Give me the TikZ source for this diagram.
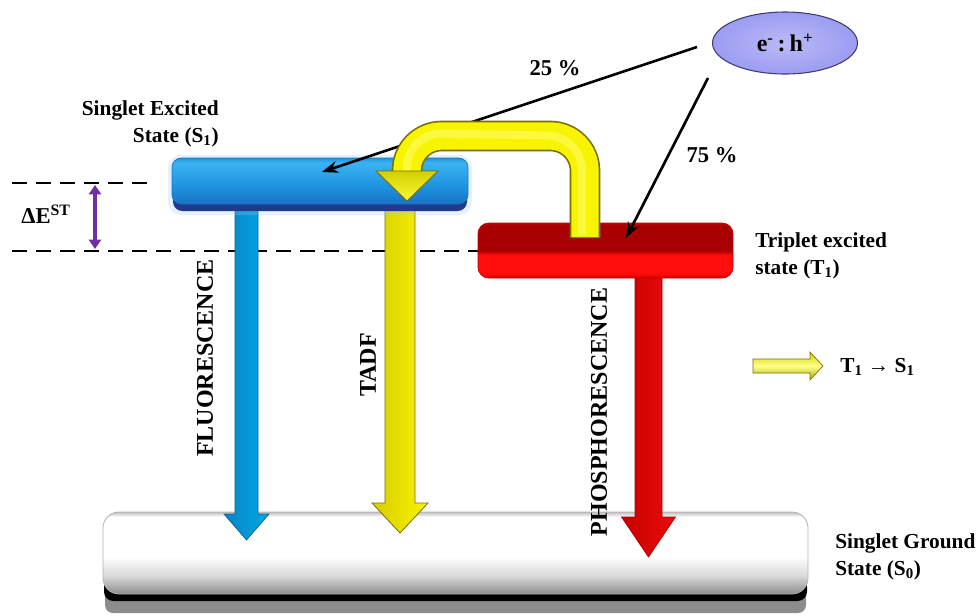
\documentclass[tikz,border=0pt]{standalone}
\usepackage{fontspec}
\setmainfont{Liberation Serif}
\usetikzlibrary{arrows.meta,shapes.geometric,calc}

\definecolor{bluetop}{HTML}{3DB2F2}
\definecolor{bluemid}{HTML}{1E94E0}
\definecolor{bluebot}{HTML}{1773C4}
\definecolor{navy}{HTML}{1F3A8C}
\definecolor{bluegl}{HTML}{9CC8EE}
\definecolor{cyanA}{HTML}{0A84C4}
\definecolor{cyanB}{HTML}{12BDF5}
\definecolor{cyanC}{HTML}{00A8E8}
\definecolor{rdark}{HTML}{A80000}
\definecolor{rbright}{HTML}{FF0D0D}
\definecolor{redge}{HTML}{C80000}
\definecolor{ylw}{HTML}{F8F400}
\definecolor{ylwdark}{HTML}{7A6E00}
\definecolor{ylwlight}{HTML}{FFFF8A}
\definecolor{ylwside}{HTML}{D8CC00}
\definecolor{lav}{HTML}{9C9CF2}
\definecolor{lavedge}{HTML}{3C3C78}
\definecolor{purp}{HTML}{7030A0}

\pgfdeclareverticalshading{redbarsh}{100bp}{color(0bp)=(redge); color(25bp)=(redge); color(29bp)=(rbright); color(46bp)=(rbright); color(50bp)=(rdark); color(73bp)=(rdark); color(75bp)=(redge); color(100bp)=(redge)}
\pgfdeclareverticalshading{bluebarsh}{100bp}{color(0bp)=(bluebot); color(25bp)=(bluebot); color(45bp)=(bluemid); color(70bp)=(bluetop); color(75bp)=(bluemid); color(100bp)=(bluemid)}
\pgfdeclareverticalshading{whitebarsh}{100bp}{color(0bp)=(black!45); color(25bp)=(black!45); color(36bp)=(black!15); color(48bp)=(white); color(72bp)=(white); color(75bp)=(black!25); color(100bp)=(black!25)}

\newcommand{\fatarrow}[7]{%
  \path[#7] ({#1-#4},{#2}) -- ({#1-#4},{#3-#6}) -- ({#1-#5},{#3-#6}) -- ({#1},{#3})
    -- ({#1+#5},{#3-#6}) -- ({#1+#4},{#3-#6}) -- ({#1+#4},{#2}) -- cycle;}

\begin{document}
\begin{tikzpicture}[x=0.75pt,y=-0.75pt,
  lbl/.style={font=\bfseries\fontsize{16}{20}\selectfont, inner sep=0pt},
  pct/.style={font=\bfseries\fontsize{17}{20}\selectfont, inner sep=0pt},
  vlbl/.style={font=\bfseries\fontsize{18}{20}\selectfont, rotate=90, inner sep=0pt},
  dashln/.style={line width=2.2pt, dash pattern=on 11pt off 7pt},
  thinarrow/.style={line width=2pt, -{Stealth[length=12pt,width=9pt]}},
  dearrow/.style={purp, line width=2.6pt, {Triangle[length=7pt,width=9pt]}-{Triangle[length=7pt,width=9pt]}},
  s1bar/.style={rectangle, rounded corners=7pt, minimum width=222pt, minimum height=34.5pt, shading=bluebarsh, draw=bluebot, line width=0.5pt},
  t1bar/.style={rectangle, rounded corners=8pt, minimum width=191.25pt, minimum height=41.25pt, shading=redbarsh, draw=redge, line width=0.5pt},
  s0bar/.style={rectangle, rounded corners=12pt, minimum width=528.75pt, minimum height=61.5pt, shading=whitebarsh, draw=black!30, line width=0.6pt},
  bluearrow/.style={draw=cyanA!70!black, line width=0.5pt, left color=cyanA, middle color=cyanB, right color=cyanC},
  yellowarrow/.style={draw=ylwdark, line width=0.6pt, left color=ylwside, middle color=ylw!70!ylwlight, right color=ylw},
  redarrow/.style={draw=rdark, line width=0.5pt, left color=redge, middle color=rbright, right color=rbright!92!black},
]
\useasboundingbox (0,0) rectangle (978,615);

% energy gap lines
\coordinate (dA1) at (12,183); \coordinate (dA2) at (150,183);
\coordinate (dB1) at (12,251); \coordinate (dB2) at (478,251);
\coordinate (gTop) at (95,185); \coordinate (gBot) at (95,249);
\draw[dashln] (dA1) -- (dA2);
\draw[dashln] (dB1) -- (dB2);
\draw[dearrow] (gTop) -- (gBot);
\node[font=\bfseries\fontsize{17}{20}\selectfont, inner sep=0pt] (dE) at (46,214) {ΔE\textsuperscript{ST}};

% ground state bar
\fill[black!45, rounded corners=6pt] (105,588) rectangle (806,613);
\fill[black, rounded corners=7pt] (104,578) rectangle (807,601);
\node[s0bar] (S0) at (455.5,553) {};

% emission arrows
\fatarrow{246.5}{207}{540}{11.5}{22.5}{26}{bluearrow}
\fatarrow{400}{203}{533}{15}{28}{30}{yellowarrow}
\fatarrow{648.5}{276}{557}{13.5}{27}{40}{redarrow}

% singlet excited bar
\fill[bluegl, opacity=0.25, rounded corners=10pt] (168,155) rectangle (472,215);
\fill[navy, rounded corners=7pt] (173,170) rectangle (467,211);
\node[s1bar] (S1) at (320,181) {};

% triplet bar
\node[t1bar] (T1) at (605.5,250.5) {};

% carrier ellipse and thin arrows
\node[ellipse, minimum width=108.75pt, minimum height=46.5pt, inner color=lav!70!white, outer color=lav, draw=lavedge, line width=0.8pt,
      font=\bfseries\fontsize{18}{20}\selectfont] (eh) at (785,43) {e\textsuperscript{-}\,:\,h\textsuperscript{+}};
\coordinate (o25) at (697,47); \coordinate (t25) at (322,172);
\coordinate (o75) at (708,78); \coordinate (t75) at (626,238);
\draw[thinarrow] (o25) -- (t25);
\draw[thinarrow] (o75) -- (t75);

% reverse intersystem crossing tube
\coordinate (rT) at (585,238); \coordinate (rA) at (585,136); \coordinate (rB) at (407,136); \coordinate (rE) at (407,173);
\draw[ylwdark, line width=23pt, rounded corners=26pt] (rT) -- (rA) -- (rB) -- (rE);
\draw[ylw, line width=20.5pt, rounded corners=26pt] ($(rT)+(0,-1)$) -- (rA) -- (rB) -- ($(rE)+(0,1)$);
\draw[ylwlight, opacity=0.45, line width=6pt, rounded corners=26pt] ($(rT)+(-3,-3)$) -- ($(rA)+(-3,0)$) -- ($(rB)+(0,-3)$) -- ($(rE)+(0,-1)$);
\path[draw=ylwdark, line width=0.7pt, top color=ylw!85!black, bottom color=ylw!60!ylwlight] (376,171) -- (438,171) -- (407,201) -- cycle;

% labels
\node[lbl, align=right, anchor=east] (s1lbl) at (219,124) {Singlet Excited\\State (S\textsubscript{1})};
\node[lbl, align=left, anchor=west] (t1lbl) at (755,256) {Triplet excited\\state (T\textsubscript{1})};
\node[lbl, align=left, anchor=west] (s0lbl) at (835,557) {Singlet Ground\\State (S\textsubscript{0})};
\node[pct] (p25) at (555,68) {25 \%};
\node[pct] (p75) at (712,155) {75 \%};
\node[vlbl] (fl) at (205,358) {FLUORESCENCE};
\node[vlbl] (td) at (368,365) {TADF};
\node[vlbl] (ph) at (599,412) {PHOSPHORESCENCE};

% legend
\path[draw=ylwdark, line width=0.5pt, top color=ylw!85!black, bottom color=ylw!70!black, middle color=ylwlight]
  (753,359) -- (810,359) -- (810,352) -- (823,366) -- (810,380) -- (810,373) -- (753,373) -- cycle;
\node[lbl, anchor=west] (leg) at (840,367) {T\textsubscript{1} → S\textsubscript{1}};
\end{tikzpicture}
\end{document}
